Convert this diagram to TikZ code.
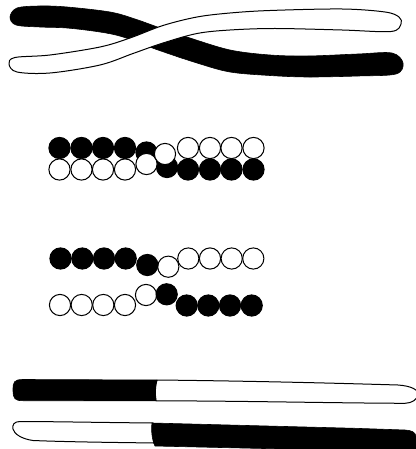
\documentclass[tikz,border=0pt]{standalone}
\begin{document}
\begin{tikzpicture}[x={(1pt,0)}, y={(0,-1pt)},
  outline/.style={draw=black, line width=1pt, line join=round},
  darkpart/.style={fill=black, draw=black, line width=0.6pt, line join=round},
  lightpart/.style={fill=white, draw=black, line width=1pt, line join=round},
  blackbead/.style={fill=black, draw=black, line width=1pt},
  whitebead/.style={fill=white, draw=black, line width=1pt}]
\useasboundingbox (0,0) rectangle (415,449);

% --- two crossing chromatids ---
\path[darkpart] plot[smooth cycle, tension=0.55] coordinates {
  (10,17) (17,8) (40,6) (67,7) (110,12) (135,19) (163,29) (190,38)
  (230,50) (270,55) (308,56) (358,54) (392,53) (403,63) (396,74)
  (358,76) (308,77) (270,75.5) (230,72) (197,63) (158,50) (123,37)
  (100,32) (67,28) (40,27) (16,25)};
\path[lightpart] plot[smooth cycle, tension=0.55] coordinates {
  (9,64) (15,57.5) (50,55) (100,47) (130,38) (163,25.5) (197,17)
  (230,13) (270,10.5) (342,9) (385,12) (399,17) (401,24) (391,31.5)
  (342,30) (275,28.5) (230,30) (197,33.5) (163,43) (133,53.5)
  (100,65) (50,73) (17,72)};

% --- bead strands, first pairing ---
\def\rb{10.6pt}
\foreach \x in {59.5,81.5,103,125} \path[blackbead] (\x,148) circle[radius=\rb];
\path[blackbead] (146.5,152.5) circle[radius=\rb];
\foreach \x in {188,210,231.5,253.5} \path[blackbead] (\x,169.5) circle[radius=\rb];
\path[blackbead] (167,167) circle[radius=\rb];
\foreach \x in {59.5,81.5,103,125} \path[whitebead] (\x,169.5) circle[radius=\rb];
\path[whitebead] (146.5,164) circle[radius=\rb];
\path[whitebead] (165,154) circle[radius=\rb];
\foreach \x in {188,210,231.5,253.5} \path[whitebead] (\x,148) circle[radius=\rb];

% --- bead strands, after exchange ---
\foreach \x in {188.3,210,231.7,253.3} \path[whitebead] (\x,258.5) circle[radius=\rb];
\path[whitebead] (168.3,266.7) circle[radius=\rb];
\foreach \x in {60,81.7,103.3,125} \path[whitebead] (\x,305) circle[radius=\rb];
\path[whitebead] (146,295) circle[radius=\rb];
\foreach \x in {60.5,82.3,104,125.7} \path[blackbead] (\x,258.5) circle[radius=\rb];
\path[blackbead] (147.3,265) circle[radius=\rb];
\path[blackbead] (166.7,294.3) circle[radius=\rb];
\foreach \x in {186.7,208.3,230,251.7} \path[blackbead] (\x,305.5) circle[radius=\rb];

% --- recombinant chromatids ---
\path[lightpart] (157,380) .. controls (250,381) and (330,383) .. (398,385)
  .. controls (412,386) and (418,390) .. (418,394)
  .. controls (418,399) and (412,403.3) .. (405,403.3)
  .. controls (330,403) and (250,401) .. (156,400.8)
  .. controls (155,394) and (155,386) .. (157,380) -- cycle;
\path[darkpart] (157,380) -- (23,379.5)
  .. controls (14,379.5) and (13,382) .. (13,390)
  .. controls (13,399) and (15,400.7) .. (23,400.7)
  -- (156,400.8) .. controls (155,394) and (155,386) .. (157,380) -- cycle;

\path[lightpart] (153,423) .. controls (100,422.5) and (50,421.5) .. (20,421.5)
  .. controls (14,421.5) and (12,425) .. (13,429)
  .. controls (14,434) and (22,439) .. (33,440.5)
  .. controls (70,442) and (120,442.5) .. (154,443) -- cycle;
\path[darkpart] (152,423) -- (355,428.3) -- (405,430)
  .. controls (411,430.3) and (416,432) .. (416,437) -- (416,452)
  -- (155,446) .. controls (152,440) and (151,430) .. (152,423) -- cycle;
\end{tikzpicture}
\end{document}
